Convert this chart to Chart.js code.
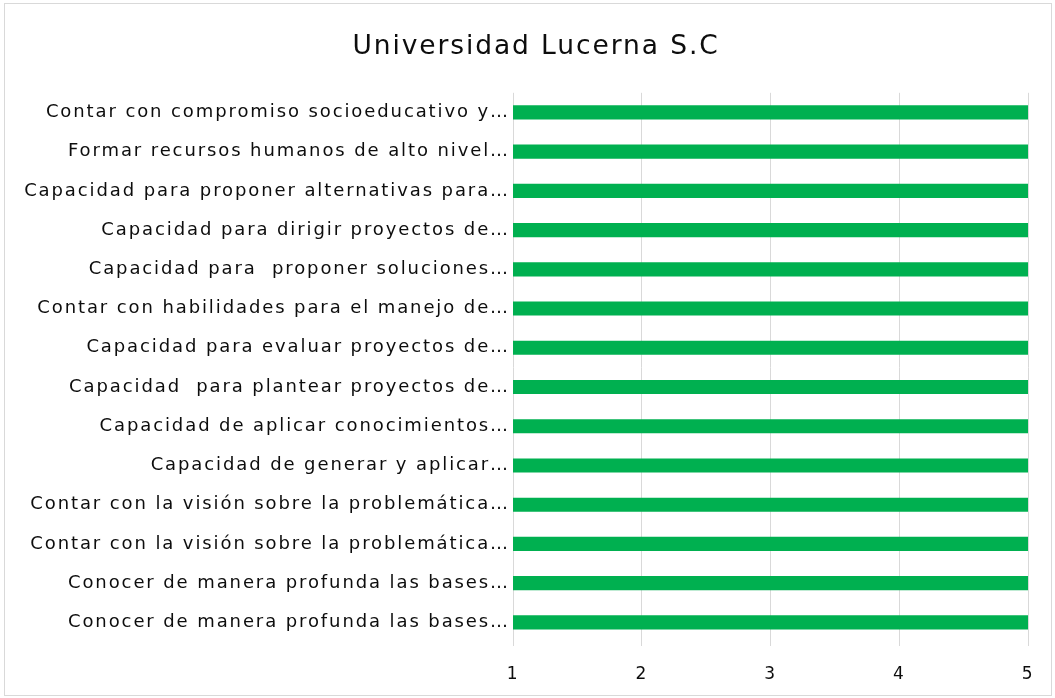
<!DOCTYPE html>
<html>
<head>
<meta charset="utf-8">
<script src="https://cdn.jsdelivr.net/npm/chart.js@4/dist/chart.umd.min.js"></script>
<style>
  html, body { margin: 0; padding: 0; background: #fff; }
  #wrap { position: relative; width: 1055px; height: 698px; }
</style>
</head>
<body>
<div id="wrap"><canvas id="c"></canvas></div>
<script>
// ── Datos ─────────────────────────────────────────────────────────
const categorias = [
  'Contar con compromiso socioeducativo y…',
  'Formar recursos humanos de alto nivel…',
  'Capacidad para proponer alternativas para…',
  'Capacidad para dirigir proyectos de…',
  'Capacidad para  proponer soluciones…',
  'Contar con habilidades para el manejo de…',
  'Capacidad para evaluar proyectos de…',
  'Capacidad  para plantear proyectos de…',
  'Capacidad de aplicar conocimientos…',
  'Capacidad de generar y aplicar…',
  'Contar con la visión sobre la problemática…',
  'Contar con la visión sobre la problemática…',
  'Conocer de manera profunda las bases…',
  'Conocer de manera profunda las bases…',
];
const valores = [5, 5, 5, 5, 5, 5, 5, 5, 5, 5, 5, 5, 5, 5];
const ejeMin = 1;
const ejeMax = 5;

const FONT = 'DejaVu Sans';
const SPACING = '1.9px';
const TXT = '#0d0d0d';

// ── Marco, titulo centrado y espaciado de letras ──────────────────
const marco = {
  id: 'marco',
  beforeUpdate(chart) { chart.ctx.letterSpacing = SPACING; },
  afterLayout(chart) {
    // el titulo del original queda centrado un poco a la derecha
    if (chart.titleBlock) chart.titleBlock.left = 44;
  },
  beforeDraw(chart) {
    const ctx = chart.ctx;
    ctx.save();
    ctx.fillStyle = '#fff';
    ctx.fillRect(0, 0, chart.width, chart.height);
    ctx.strokeStyle = '#d9d9d9';
    ctx.lineWidth = 1;
    ctx.strokeRect(4.5, 3.5, chart.width - 8, chart.height - 6);
    ctx.restore();
    ctx.letterSpacing = SPACING;
  },
};

// ── Grafico ───────────────────────────────────────────────────────
new Chart(document.getElementById('c'), {
  type: 'bar',
  data: {
    labels: categorias,
    datasets: [{
      data: valores,
      backgroundColor: '#00B050',
      borderWidth: 0,
      barPercentage: 0.72,
      categoryPercentage: 0.5,
    }],
  },
  options: {
    indexAxis: 'y',
    responsive: true, maintainAspectRatio: false,
    animation: false,
    layout: { padding: { left: 0, right: 27, top: 0, bottom: 15 } },
    plugins: {
      legend: { display: false },
      tooltip: { enabled: false },
      title: {
        display: true,
        text: 'Universidad Lucerna S.C',
        color: TXT,
        font: { family: FONT, size: 26.5, weight: 'normal' },
        padding: { top: 31, bottom: 30 },
      },
    },
    scales: {
      x: {
        min: ejeMin, max: ejeMax,
        grid: { color: '#d9d9d9', tickLength: 4 },
        border: { display: false },
        ticks: { stepSize: 1, color: TXT, padding: 18, font: { family: FONT, size: 17 } },
        afterFit: s => { s.height = 41; },
      },
      y: {
        grid: { display: false },
        border: { display: false },
        ticks: { color: TXT, padding: -5, autoSkip: false, font: { family: FONT, size: 18 } },
        afterFit: s => { s.width = 513; },
      },
    },
  },
  plugins: [marco],
});
</script>
</body>
</html>
